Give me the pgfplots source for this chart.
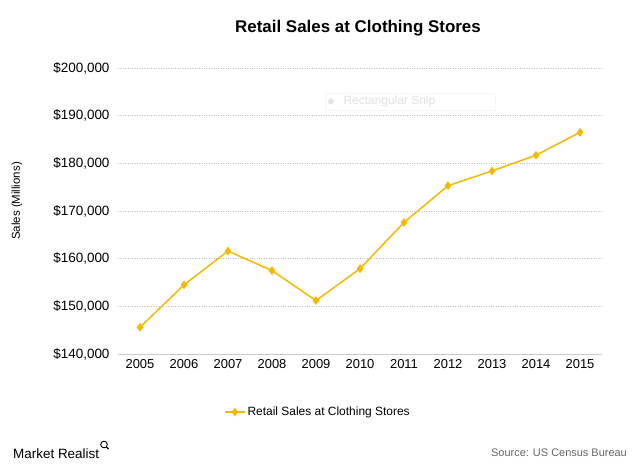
\documentclass[border=0pt]{standalone}
\usepackage{pgfplots}
\pgfplotsset{compat=1.18}
\usepackage{fontspec}
\setmainfont{Liberation Sans}
\definecolor{gold}{RGB}{245,185,0}
\definecolor{gridgray}{RGB}{190,190,190}
\begin{document}
\begin{tikzpicture}[x=1bp,y=1bp]
\useasboundingbox (0,0) rectangle (642,475);
\begin{axis}[
  at={(118bp,121bp)}, anchor=south west,
  scale only axis, width=484bp, height=286bp,
  xmin=-0.5, xmax=10.5, ymin=140000, ymax=200000,
  scaled y ticks=false,
  xtick={0,...,10},
  xticklabels={2005,2006,2007,2008,2009,2010,2011,2012,2013,2014,2015},
  ytick={140000,150000,160000,170000,180000,190000,200000},
  yticklabels={{\$140,000},{\$150,000},{\$160,000},{\$170,000},{\$180,000},{\$190,000},{\$200,000}},
  tick style={draw=none},
  axis line style={draw=none},
  ymajorgrids, grid style={gridgray, dotted, line width=0.8pt},
  xticklabel style={yshift=-2bp, font=\fontsize{13}{15}\selectfont},
  yticklabel style={xshift=-5bp, font=\fontsize{13.5}{15}\selectfont},
  ylabel={Sales (Millions)},
  every axis y label/.style={at={(rel axis cs:-0.209,0.535)}, rotate=90, anchor=center, font=\fontsize{11.5}{13}\selectfont},
  legend style={at={(0.413,-0.203)}, anchor=center, draw=none, font=\fontsize{12}{14}\selectfont, legend cell align=left},
  legend image code/.code={\draw[#1] (0bp,0bp) -- (20bp,0bp); \draw[#1, mark repeat=1] plot coordinates {(10bp,0bp)};},
  clip=false,
]
\addplot[gold, line width=1.5pt, mark=diamond*, mark size=3.2pt, mark options={fill=gold, draw=gold}] coordinates {
(0,145600) (1,154500) (2,161600) (3,157500) (4,151200) (5,157900)
(6,167600) (7,175300) (8,178400) (9,181700) (10,186500)};
\addlegendentry{Retail Sales at Clothing Stores}
\draw[gridgray!80, line width=0.8pt] (rel axis cs:0,0) -- (rel axis cs:1,0);
\end{axis}
\node[font=\bfseries\fontsize{17}{20}\selectfont] at (358,447) {Retail Sales at Clothing Stores};
% faint snip artifact
\draw[black!4, fill=white] (325,365) rectangle (495,382);
\fill[black!10] (331,373.5) circle (3);
\node[black!12, font=\fontsize{12}{14}\selectfont, anchor=west] at (340,373.5) {Rectangular Snip};
% footer
\node[font=\fontsize{13.5}{15}\selectfont, anchor=west, inner sep=0] at (13,21) {Market Realist};
\draw[line width=0.9pt] (104,30.5) circle (3.3);
\draw[line width=1.1pt] (106.4,28.1) -- (108.6,25.9);
\node[font=\fontsize{11}{13}\selectfont, text=black!60, anchor=east, inner sep=0] at (627,22) {Source: US Census Bureau};
\end{tikzpicture}
\end{document}
